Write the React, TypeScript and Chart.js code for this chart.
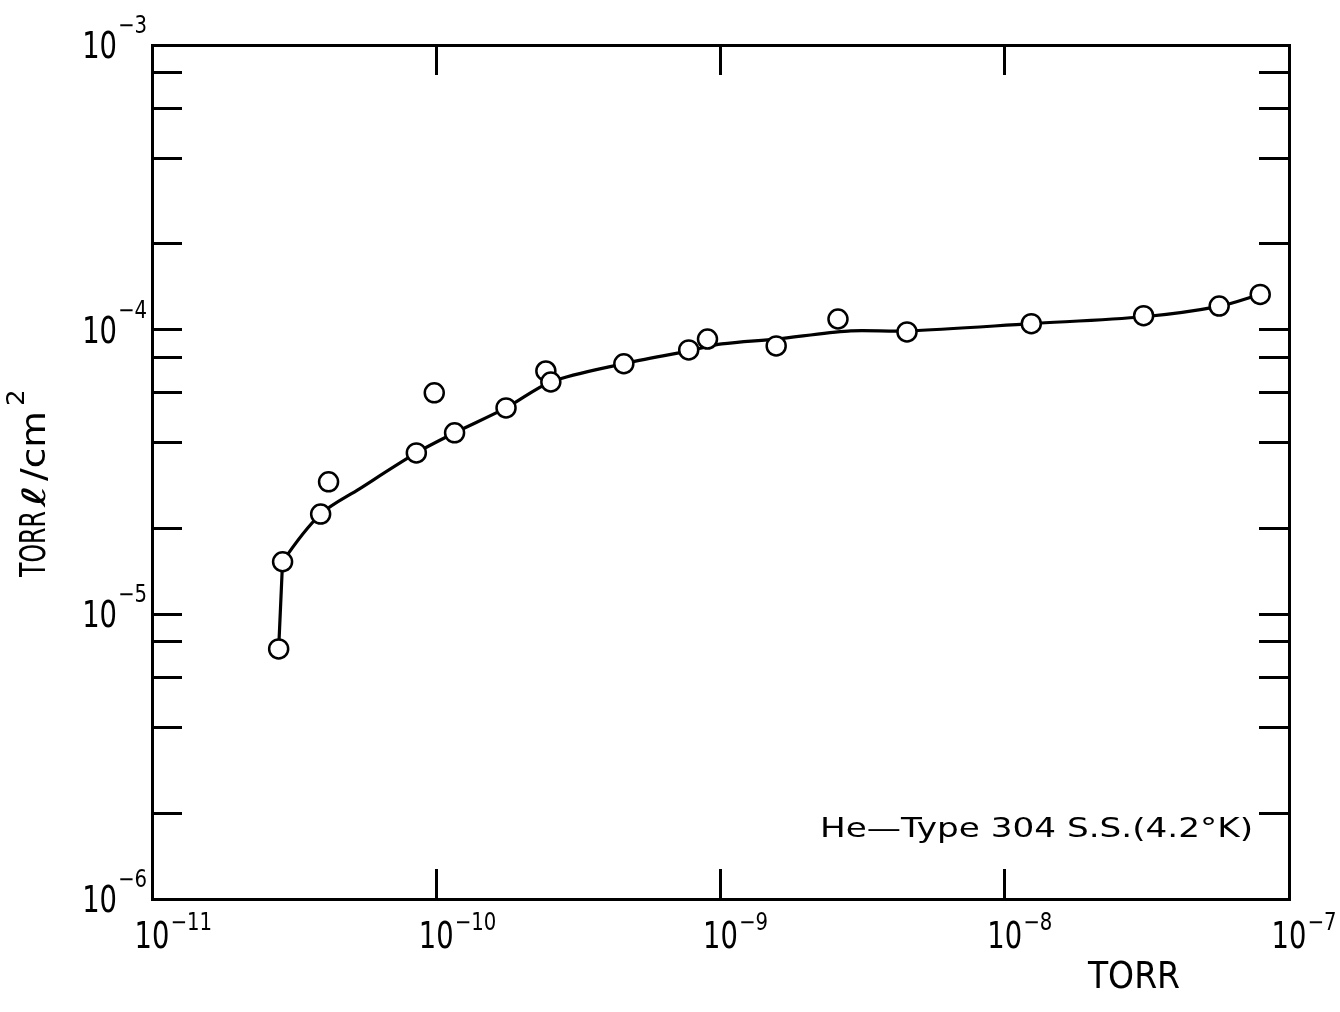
import React, { useEffect, useRef } from "react";
import { Chart, registerables } from "chart.js";

Chart.register(...registerables);

// Measured points (open circles)
const pressureTorr = [
  2.79e-11, 2.88e-11, 3.92e-11, 4.18e-11, 8.51e-11, 9.84e-11, 1.16e-10, 1.76e-10,
  2.43e-10, 2.53e-10, 4.57e-10, 7.73e-10, 9.0e-10, 1.57e-9, 2.59e-9, 4.53e-9,
  1.24e-8, 3.08e-8, 5.68e-8, 7.92e-8,
];
const adsorbedTorrLPerCm2 = [
  7.56e-6, 1.53e-5, 2.25e-5, 2.92e-5, 3.69e-5, 6.0e-5, 4.34e-5, 5.31e-5,
  7.16e-5, 6.55e-5, 7.59e-5, 8.49e-5, 9.27e-5, 8.77e-5, 1.09e-4, 9.82e-5,
  1.05e-4, 1.12e-4, 1.21e-4, 1.33e-4,
];

// Hand-drawn fitted curve
const curvePressureTorr = [
  2.79e-11, 2.87e-11, 2.88e-11, 3.92e-11, 5.37e-11, 8.51e-11, 1.16e-10, 1.76e-10,
  2.53e-10, 4.53e-10, 7.73e-10, 1.01e-9, 1.57e-9, 2.81e-9, 4.53e-9, 1.24e-8,
  3.08e-8, 5.73e-8, 7.92e-8,
];
const curveAdsorbed = [
  7.56e-6, 1.42e-5, 1.53e-5, 2.25e-5, 2.76e-5, 3.69e-5, 4.34e-5, 5.31e-5,
  6.55e-5, 7.58e-5, 8.42e-5, 8.91e-5, 9.27e-5, 9.89e-5, 9.89e-5, 1.05e-4,
  1.11e-4, 1.21e-4, 1.33e-4,
];

// Axes
const xTickValues = [1e-11, 1e-10, 1e-9, 1e-8, 1e-7];
const xTickExponents = ["\u221211", "\u221210", "\u22129", "\u22128", "\u22127"];
const yLabelValues = [1e-6, 1e-5, 1e-4, 1e-3];
const yTickExponents = ["\u22126", "\u22125", "\u22124", "\u22123"];
const yTickMarks = [
  1e-6, 2e-6, 4e-6, 6e-6, 8e-6,
  1e-5, 2e-5, 4e-5, 6e-5, 8e-5,
  1e-4, 2e-4, 4e-4, 6e-4, 8e-4,
  1e-3,
];
const tickBase = "10";
const xAxisTitle = "TORR";
const yAxisTitleParts = ["TORR", "\u2113", "/cm"];
const yAxisTitleSup = "2";
const annotationText = "He\u2014Type 304 S.S.(4.2\u00B0K)";

const FONT = '"DejaVu Sans", "Liberation Sans", sans-serif';

function drawText(
  ctx: CanvasRenderingContext2D,
  text: string,
  x: number,
  y: number,
  size: number,
  sx: number,
  align: "left" | "center" | "right"
): number {
  ctx.save();
  ctx.font = `${size}px ${FONT}`;
  const w = ctx.measureText(text).width * sx;
  let left = x;
  if (align === "center") left = x - w / 2;
  else if (align === "right") left = x - w;
  ctx.translate(left, y);
  ctx.scale(sx, 1);
  ctx.textAlign = "left";
  ctx.textBaseline = "alphabetic";
  ctx.fillStyle = "#000";
  ctx.fillText(text, 0, 0);
  ctx.restore();
  return w;
}

function fitScale(ctx: CanvasRenderingContext2D, text: string, size: number, target: number) {
  ctx.save();
  ctx.font = `${size}px ${FONT}`;
  const w = ctx.measureText(text).width;
  ctx.restore();
  return target / w;
}

const labelPlugin = {
  id: "customLabels",
  afterDraw(chart: any) {
    const ctx: CanvasRenderingContext2D = chart.ctx;
    const xs = chart.scales.x;
    const ys = chart.scales.y;
    const area = chart.chartArea;

    // x tick labels
    xTickValues.forEach((v, i) => {
      const px = xs.getPixelForValue(v);
      const w10 = drawText(ctx, tickBase, px, area.bottom + 49, 37, 0.74, "center");
      drawText(ctx, xTickExponents[i], px + w10 / 2 + 1, area.bottom + 31, 24, 0.82, "left");
    });

    // y tick labels
    yLabelValues.forEach((v, i) => {
      const py = ys.getPixelForValue(v);
      const right = area.left - 5;
      const we = drawText(ctx, yTickExponents[i], right, py - 12, 24, 0.82, "right");
      drawText(ctx, tickBase, right - we - 1, py + 13, 37, 0.74, "right");
    });

    // x axis title
    drawText(ctx, xAxisTitle, 1134, 988, 38, 0.87, "center");

    // y axis title (rotated)
    ctx.save();
    ctx.translate(45, 577);
    ctx.rotate(-Math.PI / 2);
    const sizes = [35, 32, 34];
    const targets = [66, 22, 70];
    let pos = 0;
    yAxisTitleParts.forEach((t, i) => {
      const sx = fitScale(ctx, t, sizes[i], targets[i]);
      pos += drawText(ctx, t, pos, 0, sizes[i], sx, "left");
      pos += 4;
    });
    drawText(ctx, yAxisTitleSup, pos + 1, -21, 25, 1.05, "left");
    ctx.restore();

    // annotation
    const sxA = fitScale(ctx, annotationText, 27, 433);
    drawText(ctx, annotationText, 820, 837, 27, sxA, "left");
  },
};

const gridOpts = {
  display: true,
  drawOnChartArea: false,
  drawTicks: true,
  tickLength: -30,
  tickWidth: 3,
  tickColor: "#000",
};
const borderOpts = { display: true, width: 3, color: "#000" };

export default function App() {
  const canvasRef = useRef<HTMLCanvasElement | null>(null);

  useEffect(() => {
    if (!canvasRef.current) return;
    const points = pressureTorr.map((x, i) => ({ x, y: adsorbedTorrLPerCm2[i] }));
    const curve = curvePressureTorr.map((x, i) => ({ x, y: curveAdsorbed[i] }));

    const xAxis = (position: string) => ({
      type: "logarithmic",
      position,
      min: xTickValues[0],
      max: xTickValues[xTickValues.length - 1],
      afterBuildTicks: (scale: any) => {
        scale.ticks = xTickValues.map((value) => ({ value }));
      },
      afterFit: (scale: any) => {
        scale.height = 0;
      },
      ticks: { display: false },
      grid: gridOpts,
      border: borderOpts,
    });
    const yAxis = (position: string) => ({
      type: "logarithmic",
      position,
      min: yTickMarks[0],
      max: yTickMarks[yTickMarks.length - 1],
      afterBuildTicks: (scale: any) => {
        scale.ticks = yTickMarks.map((value) => ({ value }));
      },
      afterFit: (scale: any) => {
        scale.width = 0;
      },
      ticks: { display: false },
      grid: gridOpts,
      border: borderOpts,
    });

    const chart = new Chart(canvasRef.current, {
      type: "scatter",
      data: {
        datasets: [
          {
            label: "data",
            data: points,
            showLine: false,
            pointRadius: 9.5,
            pointBorderWidth: 2.5,
            pointBackgroundColor: "#fff",
            pointBorderColor: "#000",
            order: 0,
            xAxisID: "x",
            yAxisID: "y",
          },
          {
            label: "curve",
            data: curve,
            showLine: true,
            borderColor: "#000",
            borderWidth: 3.2,
            pointRadius: 0,
            fill: false,
            tension: 0.3,
            order: 1,
            xAxisID: "x",
            yAxisID: "y",
          },
        ],
      },
      options: {
        responsive: false,
        maintainAspectRatio: false,
        animation: false,
        events: [],
        layout: { padding: { left: 152, right: 51, top: 45, bottom: 113 } },
        plugins: {
          legend: { display: false },
          tooltip: { enabled: false },
        },
        scales: {
          x: xAxis("bottom"),
          x2: xAxis("top"),
          y: yAxis("left"),
          y2: yAxis("right"),
        } as any,
      },
      plugins: [labelPlugin],
    } as any);

    return () => chart.destroy();
  }, []);

  return (
    <div style={{ position: "absolute", left: 0, top: 0, width: 1340, height: 1012, background: "#fff" }}>
      <canvas ref={canvasRef} width={1340} height={1012} style={{ display: "block" }} />
    </div>
  );
}
